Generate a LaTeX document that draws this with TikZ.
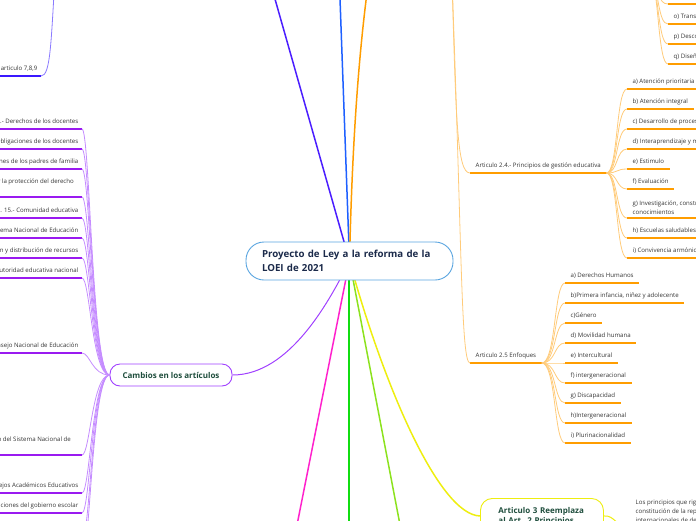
\documentclass[tikz,border=0pt]{standalone}
\usepackage{fontspec}
\setmainfont{Open Sans}
\usetikzlibrary{backgrounds}
\definecolor{navy}{HTML}{1B2A4A}
\definecolor{cblue}{HTML}{5AA5E0}
\definecolor{dgreen}{HTML}{1F4E3D}
\definecolor{txt}{HTML}{333333}
\definecolor{bviolet}{HTML}{4B1EFF}
\definecolor{bblue}{HTML}{1E60FF}
\definecolor{orM}{HTML}{FF9D00}
\definecolor{orL}{HTML}{FFCB7A}
\definecolor{magM}{HTML}{FF22CC}
\definecolor{grM}{HTML}{11DD11}
\definecolor{ygM}{HTML}{8CE21E}
\definecolor{yeM}{HTML}{EEEE10}
\definecolor{puM}{HTML}{9A1AF0}
\definecolor{puL}{HTML}{C58CFF}
\definecolor{puB}{HTML}{A040FF}
\definecolor{tlU}{HTML}{3A18FF}
\definecolor{tlL}{HTML}{8A7AFF}
\begin{document}
\begin{tikzpicture}[x=1pt,y=-1pt,
  lblbase/.style={font=\fontsize{6.1}{9}\selectfont, text=txt, inner xsep=5.5pt, inner ysep=3.5pt},
  lbl/.style={lblbase, text height=4.5pt, text depth=1.5pt},
  rl/.style={lbl, anchor=south west},
  ll/.style={lbl, anchor=south east, inner xsep=3.5pt},
  tall/.style={text depth=10pt},
  central/.style={draw=cblue, line width=0.9pt, fill=white, rounded corners=18pt, text width=175pt, inner xsep=16pt, inner ysep=5pt, minimum height=38pt, align=left, font=\fontsize{9.7}{14}\selectfont\bfseries, text=navy},
  topic/.style={line width=0.9pt, fill=white, rounded corners=10pt, minimum width=122pt, minimum height=22pt, font=\fontsize{8}{10}\selectfont\bfseries, text=dgreen},
  br/.style={line width=1.5pt},
  sb/.style={line width=0.8pt},
  ul/.style={line width=1.4pt}]
\useasboundingbox (0,0) rectangle (696,520);

% ---------- main nodes
\node[central] (c) at (349.5,261) {Proyecto de Ley a la reforma de la\\LOEI de 2021};
\node[topic, draw=puB] (cam) at (171,375) {Cambios en los artículos};
\node[topic, draw=yeM, anchor=north west, align=left, text width=87pt, inner xsep=18pt, inner ysep=8.5pt, rounded corners=12pt] (a3) at (480,498) {Articulo 3 Reemplaza\\al Art. 2 Principios};
\node[lblbase, anchor=north west, align=left] (lp) at (630,496) {Los principios que rigen la\\constitución de la república\\internacionales de derechos};

% ---------- off-screen coordinates
\coordinate (tv) at (271,-15);
\coordinate (tb) at (339.5,-15);
\coordinate (to) at (368,-15);
\coordinate (bm) at (296,530);
\coordinate (bg) at (349,530);
\coordinate (byg) at (401,530);
\coordinate (op) at (452,-20);
\coordinate (tr) at (650,-30);
\coordinate (tlp) at (56,-40);
\coordinate (L) at (-2,0);
\coordinate (t0) at (668,4);
\coordinate (t0e) at (700,4);
\coordinate (pd1) at (82,540);
\coordinate (pd2) at (82,560);
\coordinate (gtop) at (349,261);

% ---------- main branches (behind central node)
\begin{pgfonlayer}{background}
\draw[br, bviolet] (c.center) -- (tv);
\draw[br, bblue] (c.center) -- (tb);
\draw[br, orM] (c.center) .. controls (352,150) and (358,60) .. (to);
\draw[br, magM] (c.center) -- (bm);
\draw[line width=1.7pt, grM] (c.south -| gtop) -- (bg);
\draw[br, ygM] (c.center) -- (byg);
\draw[br, yeM] (c.center) .. controls (385,390) and (440,515) .. (a3.west);
\draw[line width=1pt, puB] (c.center) .. controls (330,300) and (290,375) .. (cam.east);
\end{pgfonlayer}
\draw[line width=1pt, yeM] (a3.east) .. controls (615,515) and (615,527) .. (lp.south west);

% ---------- top-left
\node[ll] (t789) at (41,76) {articulo 7,8,9};
\draw[ul, tlU] (t789.south east) -- (t789.south east -| L);
\draw[sb, tlL] (tlp) .. controls (51,40) and (51,76) .. (t789.south east);

% ---------- top-right
\node[rl] (to1) at (668,24) {o) Transparencia};
\node[rl] (to2) at (668,44) {p) Desconcentración};
\node[rl] (to3) at (668,64) {q) Diseño universal};
\draw[ul, orM] (t0) -- (t0e);
\foreach \n in {to1,to2,to3} \draw[ul, orM] (\n.south west) -- (\n.south east);
\draw[sb, orL] (tr) .. controls (659,-10) and (658,4) .. (t0);
\foreach \n/\y in {to1/24,to2/44,to3/64}
  \draw[sb, orL] (tr) .. controls (659,-10) and (658,\y) .. (\n.south west);

% ---------- Articulo 2.4 / 2.5
\node[rl] (a24) at (470,173) {Articulo 2.4.- Principios de gestión educativa};
\node[rl] (a25) at (470,363) {Articulo 2.5 Enfoques};
\draw[ul, orM] (a24.south west) -- (a24.south east);
\draw[ul, orM] (a25.south west) -- (a25.south east);
\draw[sb, orL] (op) .. controls (456,120) and (457,173) .. (a24.south west);
\draw[sb, orL] (op) .. controls (462,250) and (461,363) .. (a25.south west);

\node[rl] (b1) at (627,89) {a) Atención prioritaria};
\node[rl] (b2) at (627,109) {b) Atención integral};
\node[rl] (b3) at (627,129) {c) Desarrollo de procesos};
\node[rl] (b4) at (627,149) {d) Interaprendizaje y multiaprendizaje};
\node[rl] (b5) at (627,169) {e) Estimulo};
\node[rl] (b6) at (627,189) {f) Evaluación};
\node[lblbase, anchor=south west, align=left] (b7) at (627,218) {g) Investigación, construcción y desarrollo\\conocimientos};
\node[rl] (b8) at (627,238) {h) Escuelas saludables y seguras};
\node[rl] (b9) at (627,258) {i) Convivencia armónica};
\foreach \n in {b1,b2,b3,b4,b5,b6,b7,b8,b9}{
  \draw[ul, orM] (\n.south west) -- (\n.south east);
  \draw[sb, orL] (a24.south east) .. controls (618,173) and (616,0 |- \n.south west) .. (\n.south west);
}

\node[rl] (e1) at (565,283) {a) Derechos Humanos};
\node[rl] (e2) at (565,303) {b)Primera infancia, niñez y adolecente};
\node[rl] (e3) at (565,323) {c)Género};
\node[rl] (e4) at (565,343) {d) Movilidad humana};
\node[rl] (e5) at (565,363) {e) Intercultural};
\node[rl] (e6) at (565,383) {f) intergeneracional};
\node[rl] (e7) at (565,403) {g) Discapacidad};
\node[rl] (e8) at (565,423) {h)Intergeneracional};
\node[rl] (e9) at (565,443) {i) Plurinacionalidad};
\foreach \n in {e1,e2,e3,e4,e5,e6,e7,e8,e9}{
  \draw[ul, orM] (\n.south west) -- (\n.south east);
  \draw[sb, orL] (a25.south east) .. controls (556,363) and (554,0 |- \n.south west) .. (\n.south west);
}

% ---------- Cambios en los artículos (left)
\node[ll] (p1) at (82,129) {.- Derechos de los docentes};
\node[ll] (p2) at (82,149) {Obligaciones de los docentes};
\node[ll] (p3) at (82,169) {nes de los padres de familia};
\node[ll, tall, inner xsep=8pt] (p4) at (82,197) {y la protección del derecho};
\node[ll] (p5) at (82,218) {t. 15.- Comunidad educativa};
\node[ll] (p6) at (82,238) {tema Nacional de Educación};
\node[ll] (p7) at (82,258) {n y distribución de recursos};
\node[ll] (p8) at (82,278) {utoridad educativa nacional};
\node[ll] (p9) at (82,353) {nsejo Nacional de Educación};
\node[ll, tall, inner xsep=11pt] (p10) at (82,455) {n del Sistema Nacional de};
\node[ll] (p11) at (82,493) {ejos Académicos Educativos};
\node[ll] (p12) at (82,513) {ciones del gobierno escolar};
\foreach \n in {p1,p2,p3,p4,p5,p6,p7,p8,p9,p10,p11,p12}{
  \draw[ul, puM] (\n.south east) -- (\n.south east -| L);
  \draw[sb, puL] (cam.west) .. controls (92,375) and (90,0 |- \n.south east) .. (\n.south east);
}
\foreach \n in {pd1,pd2}
  \draw[sb, puL] (cam.west) .. controls (92,375) and (90,0 |- \n) .. (\n);
\end{tikzpicture}
\end{document}
